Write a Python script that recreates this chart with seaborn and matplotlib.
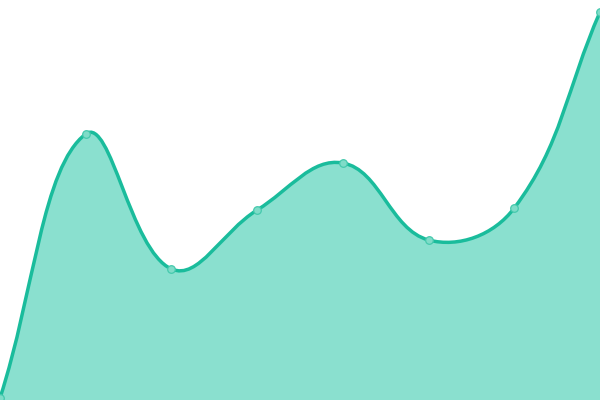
import numpy as np
import pandas as pd
import matplotlib
matplotlib.use("Agg")
import matplotlib.pyplot as plt
from matplotlib.path import Path
from matplotlib.patches import PathPatch
import seaborn as sns

# data
labels = ["p1", "p2", "p3", "p4", "p5", "p6", "p7", "p8"]
values = [2, 266, 131, 190, 237, 160, 192, 388]

line_color = "#1abc9c"
fill_color = "#8ae0cf"
marker_fill = "#7fdcc8"
marker_edge = "#45c9ad"
tension = 0.4

df = pd.DataFrame({"label": labels, "value": values})
df["pos"] = np.arange(len(df))

sns.set_theme(style="white")
fig = plt.figure(figsize=(6, 4), dpi=100)
ax = fig.add_axes([0, 0, 1, 1])
ax.set_xlim(0, len(df) - 1)
ax.set_ylim(0, 400)
ax.axis("off")

# bezier control points like a chart.js spline, computed in display pixels
xs = df["pos"].values * 600 / (len(df) - 1)
ys = df["value"].values.astype(float)
pts = np.column_stack([xs, ys])
n = len(pts)
verts = [tuple(pts[0])]
codes = [Path.MOVETO]
cps = []
for i in range(n):
    prev = pts[max(i - 1, 0)]
    cur = pts[i]
    nxt = pts[min(i + 1, n - 1)]
    d01 = np.hypot(*(cur - prev))
    d12 = np.hypot(*(nxt - cur))
    tot = d01 + d12
    s01 = d01 / tot if tot else 0
    s12 = d12 / tot if tot else 0
    cps.append((cur - tension * s01 * (nxt - prev), cur + tension * s12 * (nxt - prev)))
for i in range(1, n):
    verts += [tuple(cps[i - 1][1]), tuple(cps[i][0]), tuple(pts[i])]
    codes += [Path.CURVE4] * 3

# back to data units
to_data = lambda v: (v[0] * (len(df) - 1) / 600, v[1])
line_verts = [to_data(v) for v in verts]

fill_verts = line_verts + [(len(df) - 1, 0), (0, 0), line_verts[0]]
fill_codes = codes + [Path.LINETO, Path.LINETO, Path.CLOSEPOLY]
ax.add_patch(PathPatch(Path(fill_verts, fill_codes), facecolor=fill_color, edgecolor="none", zorder=1))
ax.add_patch(PathPatch(Path(line_verts, codes), facecolor="none", edgecolor=line_color, lw=2.5, zorder=2))

sns.scatterplot(data=df, x="pos", y="value", ax=ax, s=30, color=marker_fill,
                edgecolor=marker_edge, linewidth=0.9, zorder=3, clip_on=False)

fig.savefig("out.png", dpi=100)
